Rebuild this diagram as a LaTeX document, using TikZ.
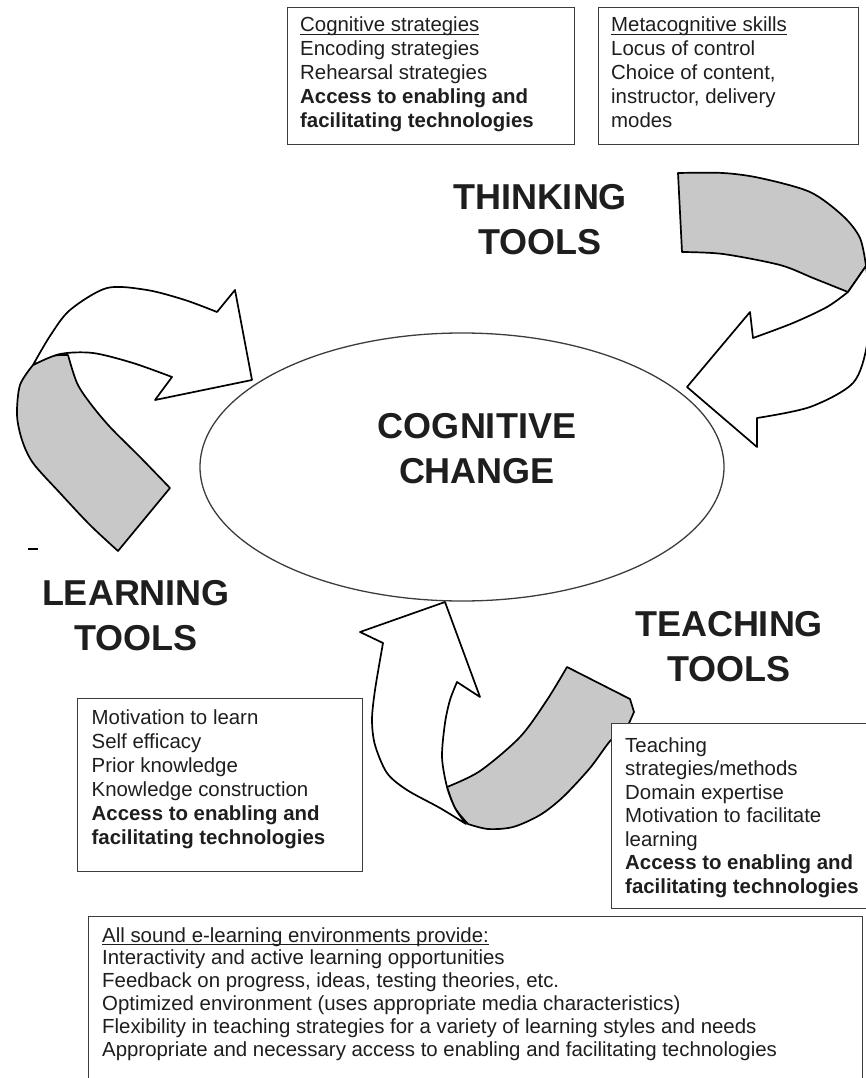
\documentclass[tikz,border=0pt]{standalone}
\usepackage{fontspec}
\setmainfont{Liberation Sans}
\definecolor{bandgray}{RGB}{200,200,200}
\definecolor{boxgray}{RGB}{60,60,60}
\definecolor{txtcol}{RGB}{30,30,30}
\newsavebox\ulbox
\newcommand\ulx[1]{\sbox\ulbox{#1}\rlap{\rule[-2.6pt]{\wd\ulbox}{0.9pt}}\usebox\ulbox}
\tikzset{
  face/.style={draw=black, line width=1.7pt, fill=white, line join=round},
  back/.style={draw=black, line width=1.7pt, fill=bandgray, line join=round},
  textbox/.style={draw=boxgray, line width=1.4pt, fill=white, inner sep=0, anchor=north west},
  big/.style={font=\fontsize{36}{44}\selectfont\bfseries, text=txtcol, inner sep=0, anchor=base},
  small/.style={font=\fontsize{20.4}{24}\selectfont, text=txtcol, inner sep=0, anchor=base west},
  ring/.style={draw=boxgray, line width=1.3pt},
}
\begin{document}
\begin{tikzpicture}[x=1pt,y=-1pt]
\useasboundingbox (0,0) rectangle (865,1078);

% central ellipse
\draw[ring] (462,467) ellipse [x radius=262, y radius=134];
\node[big] (cog1) at (477,438) {COGNITIVE};
\node[big] (cog2) at (477,483) {CHANGE};

% thinking arrow (top right)
\draw[back] plot[smooth] coordinates {(682,252) (723,254) (780,265) (813,278) (848,292)} -- (866,266)
  -- plot[smooth] coordinates {(866,266) (860,238) (843,216) (810,192) (760,178) (723,173) (678,173)} -- cycle;
\draw[face] plot[smooth] coordinates {(848,292) (827,307) (793,323) (753,338)} -- (750,312) -- (687,387) -- (757,447) -- (757,418)
  -- plot[smooth] coordinates {(757,418) (810,407) (853,383) (867,345) (869,300) (866,266)} -- cycle;

% learning arrow (left)
\draw[back] plot[smooth] coordinates {(33,365) (20,385) (17,415) (22,440) (33,463) (60,493) (90,525) (118,551)} -- (170,488)
  -- plot[smooth] coordinates {(170,488) (140,457) (110,427) (90,403) (77,383) (68,355)}
  -- plot[smooth] coordinates {(68,355) (52,356) (33,365)} -- cycle;
\draw[face] plot[smooth] coordinates {(33,365) (50,336) (70,310) (107,288) (147,290) (185,300) (217,312)} -- (235,290) -- (252,380) -- (155,400) -- (172,377)
  -- plot[smooth] coordinates {(172,377) (133,363) (93,353) (60,354) (33,365)} -- cycle;
\draw[line width=1.2pt] (28,549) -- (38,549);

% teaching arrow (bottom)
\draw[back] plot[smooth] coordinates {(447,787) (480,771) (520,737) (547,700) (567,667)} -- (630,699) -- (634,712) -- (626,730)
  -- plot[smooth] coordinates {(626,730) (611,740) (590,768) (563,797) (540,815) (513,827) (488,829) (468,824)}
  -- plot[smooth] coordinates {(468,824) (455,808) (447,787)} -- cycle;
\draw[face] (445,602) -- (480,697) -- (457,682)
  -- plot[smooth] coordinates {(457,682) (450,700) (445,723) (442,757) (447,787) (455,808) (466,824)}
  -- plot[smooth] coordinates {(466,824) (440,808) (407,790) (387,773) (375,745) (372,720) (375,690) (383,643)} -- (360,632) -- cycle;

% big labels
\node[big] (think1) at (540,209) {THINKING};
\node[big] (think2) at (540,254) {TOOLS};
\node[big] (learn1) at (136,605) {LEARNING};
\node[big] (learn2) at (136,650) {TOOLS};
\node[big] (teach1) at (729,636) {TEACHING};
\node[big] (teach2) at (729,681) {TOOLS};

% top boxes
\node[textbox, minimum width=287, minimum height=137] (cogbox) at (287,7) {};
\node[small] (c1) at (300,32) {\ulx{Cognitive strategies}};
\node[small] (c2) at (300,56) {Encoding strategies};
\node[small] (c3) at (300,80) {Rehearsal strategies};
\node[small] (c4) at (300,104) {\bfseries Access to enabling and};
\node[small] (c5) at (300,128) {\bfseries facilitating technologies};

\node[textbox, minimum width=260, minimum height=137] (metabox) at (598,7) {};
\node[small] (m1) at (611,32) {\ulx{Metacognitive skills}};
\node[small] (m2) at (611,56) {Locus of control};
\node[small] (m3) at (611,80) {Choice of content,};
\node[small] (m4) at (611,104) {instructor, delivery};
\node[small] (m5) at (611,128) {modes};

% learning box
\node[textbox, minimum width=285, minimum height=173] (learnbox) at (77,698) {};
\node[small] (l1) at (91.5,724) {Motivation to learn};
\node[small] (l2) at (91.5,748) {Self efficacy};
\node[small] (l3) at (91.5,772) {Prior knowledge};
\node[small] (l4) at (91.5,796) {Knowledge construction};
\node[small] (l5) at (91.5,820) {\bfseries Access to enabling and};
\node[small] (l6) at (91.5,844) {\bfseries facilitating technologies};

% teaching box
\node[textbox, minimum width=270, minimum height=185] (teachbox) at (611,723) {};
\node[small] (t1) at (625,752) {Teaching};
\node[small] (t2) at (625,775.5) {strategies/methods};
\node[small] (t3) at (625,799) {Domain expertise};
\node[small] (t4) at (625,822.5) {Motivation to facilitate};
\node[small] (t5) at (625,846) {learning};
\node[small] (t6) at (625,869.5) {\bfseries Access to enabling and};
\node[small] (t7) at (625,893) {\bfseries facilitating technologies};

% bottom box
\node[textbox, minimum width=774, minimum height=180] (envbox) at (88,916) {};
\node[small] (e1) at (102,942) {\ulx{All sound e-learning environments provide:}};
\node[small] (e2) at (102,964.8) {Interactivity and active learning opportunities};
\node[small] (e3) at (102,987.6) {Feedback on progress, ideas, testing theories, etc.};
\node[small] (e4) at (102,1010.4) {Optimized environment (uses appropriate media characteristics)};
\node[small] (e5) at (102,1033.2) {Flexibility in teaching strategies for a variety of learning styles and needs};
\node[small] (e6) at (102,1056) {Appropriate and necessary access to enabling and facilitating technologies};
\end{tikzpicture}
\end{document}
